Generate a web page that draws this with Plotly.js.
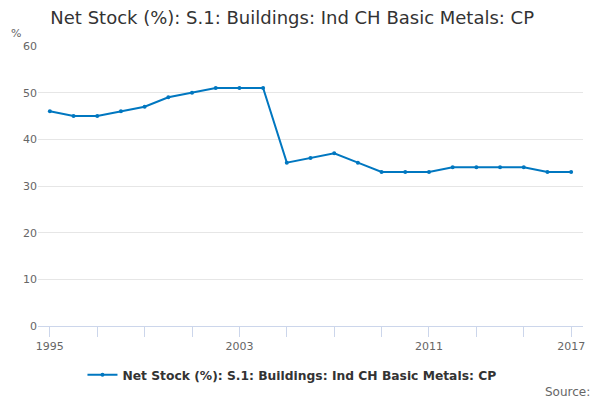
<!DOCTYPE html>
<html>
<head>
<meta charset="utf-8">
<script src="https://cdn.plot.ly/plotly-3.0.1.min.js"></script>
<style>
  html, body { margin: 0; padding: 0; background: #fff; }
  #myDiv { width: 600px; height: 400px; }
</style>
</head>
<body>
<div id="myDiv"></div>
<script>
var years = [1995, 1996, 1997, 1998, 1999, 2000, 2001, 2002, 2003, 2004, 2005, 2006,
             2007, 2008, 2009, 2010, 2011, 2012, 2013, 2014, 2015, 2016, 2017];
var netStock = [46, 45, 45, 46, 47, 49, 50, 51, 51, 51, 35, 36,
                37, 35, 33, 33, 33, 34, 34, 34, 34, 33, 33];
var tickYears = [1995, 1997, 1999, 2001, 2003, 2005, 2007, 2009, 2011, 2013, 2015, 2017];
var tickLabels = ['1995', '', '', '', '2003', '', '', '', '2011', '', '', '2017'];

var seriesName = 'Net Stock (%): S.1: Buildings: Ind CH Basic Metals: CP';

var trace1 = {
  x: years,
  y: netStock,
  name: seriesName,
  mode: 'lines+markers',
  type: 'scatter',
  line: { color: 'rgb(0,119,192)', width: 2 },
  marker: { color: 'rgb(0,119,192)', size: 4 }
};

var layout = {
  width: 600,
  height: 400,
  margin: { l: 38, r: 17, t: 46, b: 73 },
  paper_bgcolor: '#fff',
  plot_bgcolor: '#fff',
  font: { family: 'DejaVu Sans, sans-serif', color: '#666' },
  title: {
    text: 'Net Stock (%): S.1: Buildings: Ind CH Basic Metals: CP',
    font: { size: 18, color: '#333' },
    x: 0.487, xanchor: 'center',
    y: 0.955, yanchor: 'middle'
  },
  xaxis: {
    range: [1994.5, 2017.5],
    tickvals: tickYears,
    ticktext: tickLabels,
    ticks: 'outside',
    ticklen: 10,
    tickcolor: '#ccd6eb',
    showline: true,
    linecolor: '#ccd6eb',
    showgrid: false,
    zeroline: false,
    tickfont: { size: 11, color: '#666' }
  },
  yaxis: {
    range: [0, 60],
    dtick: 10,
    showgrid: true,
    gridcolor: '#e6e6e6',
    zeroline: false,
    showline: false,
    ticks: '',
    tickfont: { size: 11, color: '#666' }
  },
  showlegend: true,
  legend: {
    orientation: 'h',
    x: 0.466, xanchor: 'center',
    y: -0.17, yanchor: 'middle',
    font: { size: 12.3, color: '#333', weight: 'bold' }
  },
  annotations: [
    { text: '%', xref: 'paper', yref: 'paper', x: -0.054, y: 1.015, xanchor: 'left', yanchor: 'bottom',
      showarrow: false, font: { size: 11, color: '#666' } },
    { text: 'Source:', xref: 'paper', yref: 'paper', x: 1.016, y: -0.235, xanchor: 'right', yanchor: 'middle',
      showarrow: false, font: { size: 12, color: '#666' } }
  ]
};

Plotly.newPlot('myDiv', [trace1], layout, { displayModeBar: false });
</script>
</body>
</html>
